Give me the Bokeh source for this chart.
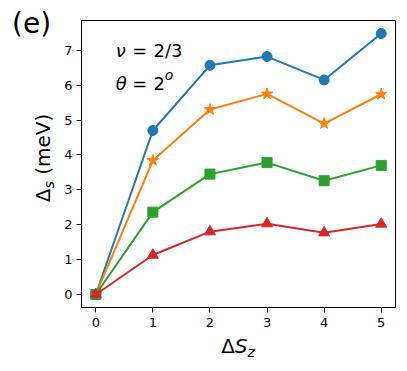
from bokeh.plotting import figure
from bokeh.models import Label, Range1d, FixedTicker, Div
from bokeh.layouts import row, column
from bokeh.embed import file_html
from bokeh.resources import INLINE

dSz = [0, 1, 2, 3, 4, 5]
blue_vals = [0, 4.70, 6.57, 6.82, 6.15, 7.48]
orange_vals = [0, 3.84, 5.30, 5.75, 4.90, 5.74]
green_vals = [0, 2.36, 3.45, 3.78, 3.26, 3.70]
red_vals = [0, 1.13, 1.80, 2.03, 1.77, 2.02]
x_ticks = [0, 1, 2, 3, 4, 5]
y_ticks = [0, 1, 2, 3, 4, 5, 6, 7]

FONT = "DejaVu Sans"

p = figure(width=344, height=329, output_backend="svg", toolbar_location=None,
           x_range=Range1d(-0.25, 5.25), y_range=Range1d(-0.374, 7.854),
           min_border_left=26, min_border_right=4, min_border_top=20, min_border_bottom=22,
           margin=0)
p.grid.visible = False
p.outline_line_color = "black"
p.outline_line_width = 1
for ax in (p.xaxis[0], p.yaxis[0]):
    ax.axis_line_color = "black"
    ax.major_tick_line_color = "black"
    ax.major_tick_out = 5
    ax.major_tick_in = 0
    ax.minor_tick_line_color = None
    ax.major_label_text_font = FONT
    ax.major_label_text_font_size = "13px"
    ax.major_label_text_color = "black"
p.xaxis.ticker = FixedTicker(ticks=x_ticks)
p.yaxis.ticker = FixedTicker(ticks=y_ticks)
p.xaxis.major_label_standoff = 5
p.yaxis.major_label_standoff = 4

series = [
    (blue_vals, "#1f77b4", "circle", 10),
    (orange_vals, "#ff7f0e", "star", 12),
    (green_vals, "#2ca02c", "square", 10),
    (red_vals, "#d62728", "triangle", 11),
]
for vals, col, mk, sz in series:
    p.line(dSz, vals, line_color=col, line_width=2)
    p.scatter(dSz, vals, marker=mk, size=sz, fill_color=col, line_color=col)

def lab(x, y, t, size, style="normal"):
    p.add_layout(Label(x=x, y=y, text=t, text_font=FONT, text_font_size=size,
                       text_font_style=style, text_color="black",
                       text_align="left", text_baseline="alphabetic"))

# annotations inside the frame
lab(0.35, 7.00, "\u03bd", "18px", "italic")
lab(0.64, 7.00, "=", "18px")
lab(1.01, 7.00, "2/3", "18px")
lab(0.35, 6.06, "\u03b8", "18px", "italic")
lab(0.64, 6.06, "=", "18px")
lab(1.01, 6.06, "2", "18px")
lab(1.21, 6.30, "o", "14px", "italic")

base = "font-family:'DejaVu Sans';color:black;line-height:1;white-space:nowrap;position:absolute;"
sub = "font-style:italic;font-size:0.7em;position:relative;top:0.25em;"

left_html = (
    "<div style='position:relative;width:55px;height:363px;'>"
    f"<div style=\"{base}left:12px;top:10px;font-size:28px;\">(e)</div>"
    f"<div style=\"{base}left:43px;top:158px;font-size:20px;transform:translate(-50%,-50%) rotate(-90deg);\">"
    f"\u0394<span style='{sub}'>s</span> (meV)</div>"
    "</div>"
)
left_div = Div(text=left_html, width=55, height=363, margin=0)

bottom_html = (
    "<div style='position:relative;width:344px;height:34px;'>"
    f"<div style=\"{base}left:183px;top:7px;font-size:20px;transform:translateX(-50%);\">"
    f"\u0394<i>S</i><span style='{sub}'>z</span></div>"
    "</div>"
)
bottom_div = Div(text=bottom_html, width=344, height=34, margin=0)

layout = row(left_div, column(p, bottom_div, spacing=0, margin=0), spacing=0, margin=0)

open("out.html", "w").write(file_html(layout, INLINE))
